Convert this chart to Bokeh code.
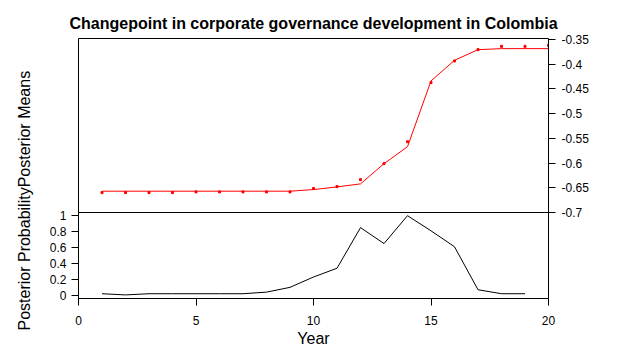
from bokeh.plotting import figure
from bokeh.models import Range1d, LinearAxis, FixedTicker, PrintfTickFormatter, Span, Title
from bokeh.embed import file_html
from bokeh.resources import INLINE

# ---------------- data ----------------
years_mean = list(range(1, 21))
observed = [-0.6597, -0.6597, -0.6597, -0.6597, -0.6583, -0.6583, -0.6583, -0.6583, -0.6583,
            -0.6516, -0.6476, -0.6335, -0.6012, -0.5569, -0.4371, -0.3935, -0.3706, -0.3639,
            -0.3639, -0.3619]
post_mean = [-0.6569, -0.6569, -0.6569, -0.6569, -0.6569, -0.6569, -0.6569, -0.6569, -0.6569,
             -0.6536, -0.6482, -0.6421, -0.6012, -0.5669, -0.4339, -0.3921, -0.3706, -0.3685,
             -0.3685, -0.3685]

years_prob = list(range(1, 20))
post_prob = [0.02, 0.005, 0.02, 0.02, 0.02, 0.02, 0.02, 0.04, 0.10, 0.23, 0.34, 0.85, 0.65,
             1.00, 0.81, 0.61, 0.07, 0.02, 0.02]

x_ticks = [0, 5, 10, 15, 20]
mean_ticks = [-0.35, -0.4, -0.45, -0.5, -0.55, -0.6, -0.65, -0.7]
prob_ticks = [0, 0.2, 0.4, 0.6, 0.8, 1]

title_text = "Changepoint in corporate governance development in Colombia"
xlabel = "Year"
ylabel_text = "Posterior Probability" + "Posterior Means"

# ---------------- geometry ----------------
FRAME_W, FRAME_H = 470, 260
LOWER_H = 86                       # pixel height of the lower panel
lo_lim = (-0.04, 1.04)             # lower panel limits
up_lim = (-0.70, -0.348)           # upper panel limits

lo_scale = (lo_lim[1] - lo_lim[0]) / LOWER_H
lo_range = Range1d(lo_lim[0], lo_lim[0] + FRAME_H * lo_scale)
up_scale = (up_lim[1] - up_lim[0]) / (FRAME_H - LOWER_H)
up_range = Range1d(up_lim[1] - FRAME_H * up_scale, up_lim[1])

FONT = "Liberation Sans"

p = figure(frame_width=FRAME_W, frame_height=FRAME_H,
           x_range=Range1d(0, 20), y_range=lo_range,
           x_axis_type=None, y_axis_type=None,
           output_backend="svg", toolbar_location=None,
           min_border_left=76, min_border_top=38, min_border_right=10, min_border_bottom=52)
p.extra_y_ranges = {"upper": up_range}
p.outline_line_color = "black"
p.outline_line_width = 1
p.background_fill_color = "white"
p.border_fill_color = "white"

p.title.text = title_text
p.title.text_font = FONT
p.title.text_font_style = "bold"
p.title.text_font_size = "16px"
p.title.align = "center"
p.title.standoff = 14
p.title.text_color = "black"


def style_axis(ax):
    ax.formatter = PrintfTickFormatter(format="%g")
    ax.major_tick_in = 0
    ax.major_tick_out = 7
    ax.minor_tick_out = 0
    ax.minor_tick_in = 0
    ax.axis_line_color = "black"
    ax.major_tick_line_color = "black"
    ax.major_label_text_font = FONT
    ax.major_label_text_font_size = "12px"
    ax.major_label_text_color = "black"
    ax.axis_label_text_font = FONT
    ax.axis_label_text_font_size = "16px"
    ax.axis_label_text_font_style = "normal"
    ax.axis_label_text_color = "black"


xaxis = LinearAxis(ticker=FixedTicker(ticks=x_ticks), axis_label=xlabel, bounds=(0, 20))
style_axis(xaxis)
xaxis.major_label_standoff = 10
xaxis.axis_label_standoff = 2
p.add_layout(xaxis, "below")

left = LinearAxis(ticker=FixedTicker(ticks=prob_ticks), bounds=(0, 1))
style_axis(left)
left.major_label_standoff = 5
p.add_layout(left, "left")

right = LinearAxis(y_range_name="upper", ticker=FixedTicker(ticks=mean_ticks), bounds=(-0.7, -0.35))
style_axis(right)
right.major_label_standoff = 6
p.add_layout(right, "right")

# combined y label of the two panels
ylab = Title(text=ylabel_text, align="left", offset=-32, vertical_align="bottom", standoff=27,
             text_font=FONT, text_font_size="16px", text_font_style="normal", text_color="black")
p.add_layout(ylab, "left")

# divider between panels
p.add_layout(Span(location=lo_lim[1], dimension="width", line_color="black", line_width=1))

# data
p.line(years_mean, post_mean, y_range_name="upper", line_color="red", line_width=1)
p.scatter(years_mean, observed, y_range_name="upper", marker="square", size=2,
          fill_color="red", line_color="red")
p.line(years_prob, post_prob, line_color="black", line_width=1)

open("out.html", "w").write(file_html(p, INLINE))
